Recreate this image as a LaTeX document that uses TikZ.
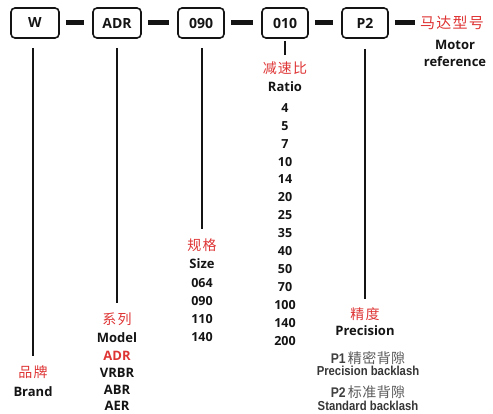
\documentclass[tikz,border=0pt]{standalone}
\usepackage{fontspec}
\setmainfont{Open Sans}
\newfontfamily\narrowf{Liberation Sans}[FakeStretch=0.87]
\newfontfamily\cjk{Noto Sans CJK SC}[LetterSpace=8]
\newfontfamily\cjkg{Noto Sans CJK SC}[LetterSpace=3]
\definecolor{cnred}{RGB}{222,52,52}
\definecolor{ink}{RGB}{20,20,20}
\definecolor{cngray}{RGB}{90,90,90}
\tikzset{
  codebox/.style={draw=ink,line width=1.6pt,rounded corners=4pt,minimum height=30pt,inner sep=0pt,font=\fontsize{14}{14}\selectfont\bfseries,text=ink},
  dashbar/.style={draw=ink,line width=5pt,shorten <=6pt,shorten >=8pt},
  vline/.style={draw=ink,line width=2pt},
  cn/.style={inner sep=0pt,text=cnred,font=\cjk\fontsize{14}{14}\selectfont},
  en/.style={inner sep=0pt,text=ink,font=\fontsize{13}{13}\selectfont\bfseries},
  num/.style={inner sep=0pt,text=ink,font=\fontsize{12.5}{12.5}\selectfont\bfseries},
  nar/.style={inner sep=0pt,text=ink,font=\narrowf\fontsize{13}{13}\selectfont\bfseries},
}
\begin{document}
\begin{tikzpicture}[x=1pt,y=-1pt]
\useasboundingbox (0,0) rectangle (493,414);
% code boxes
\node[codebox,minimum width=48pt] (w) at (35,23) {W};
\node[codebox,minimum width=48pt] (adr) at (117,23) {ADR};
\node[codebox,minimum width=46pt] (s090) at (201,23) {090};
\node[codebox,minimum width=46pt] (r010) at (285,23) {010};
\node[codebox,minimum width=46pt] (p2) at (365,23) {P2};
\node[cn,anchor=west,font=\cjk\fontsize{15}{15}\selectfont] (motorcn) at (420,23) {马达型号};
\node[en] (motor1) at (455,45) {Motor};
\node[en] (motor2) at (455,62) {reference};
% dashes
\draw[dashbar] (w) -- (adr);
\draw[dashbar] (adr) -- (s090);
\draw[dashbar] (s090) -- (r010);
\draw[dashbar] (r010) -- (p2);
\draw[dashbar,shorten >=5pt] (p2) -- (motorcn);
% brand
\node[cn] (brandcn) at (33,372) {品牌};
\node[en] (brand) at (33,392) {Brand};
% model
\node[cn] (modelcn) at (117,319) {系列};
\node[en] (model) at (117,338) {Model};
\node[en,text=cnred] (madr) at (117,356) {ADR};
\node[en] (mvrbr) at (117,373) {VRBR};
\node[en] (mabr) at (117,390) {ABR};
\node[en] (maer) at (117,406) {AER};
% size
\node[cn] (sizecn) at (202,245) {规格};
\node[en] (size) at (202,264) {Size};
\node[num] (z1) at (202,283) {064};
\node[num] (z2) at (202,301) {090};
\node[num] (z3) at (202,319) {110};
\node[num] (z4) at (202,337) {140};
% ratio
\node[cn] (ratiocn) at (285,68) {减速比};
\node[en] (ratio) at (285,87) {Ratio};
\foreach \v [count=\i] in {4,5,7,10,14,20,25,35,40,50,70,100,140,200}
  \node[num] (q\i) at (285,{90+\i*17.9}) {\v};
% precision
\node[cn] (preccn) at (365,314) {精度};
\node[en] (prec) at (365,331) {Precision};
\node[inner sep=0pt] (p1t) at (368,358) {\narrowf\fontsize{14}{14}\selectfont\bfseries\color{cngray!70!black}P1\,{\cjkg\mdseries\color{cngray}精密背隙}};
\node[nar,text=cngray!60!black] (p1e) at (368,371) {Precision backlash};
\node[inner sep=0pt] (p2t) at (368,392) {\narrowf\fontsize{14}{14}\selectfont\bfseries\color{cngray!70!black}P2\,{\cjkg\mdseries\color{cngray}标准背隙}};
\node[nar,text=cngray!60!black] (p2e) at (368,406) {Standard backlash};
% vertical lines
\draw[vline] ([yshift=-9pt]w.south -| brandcn) -- ([yshift=9pt]brandcn.north);
\draw[vline] ([yshift=-9pt]adr.south) -- ([yshift=9pt]modelcn.north -| adr);
\draw[vline] ([yshift=-9pt]s090.south -| sizecn) -- ([yshift=9pt]sizecn.north);
\draw[vline] ([yshift=-2pt]r010.south) -- ([yshift=6pt]ratiocn.north);
\draw[vline] ([yshift=-10pt]p2.south) -- ([yshift=8pt]preccn.north);
\end{tikzpicture}
\end{document}
